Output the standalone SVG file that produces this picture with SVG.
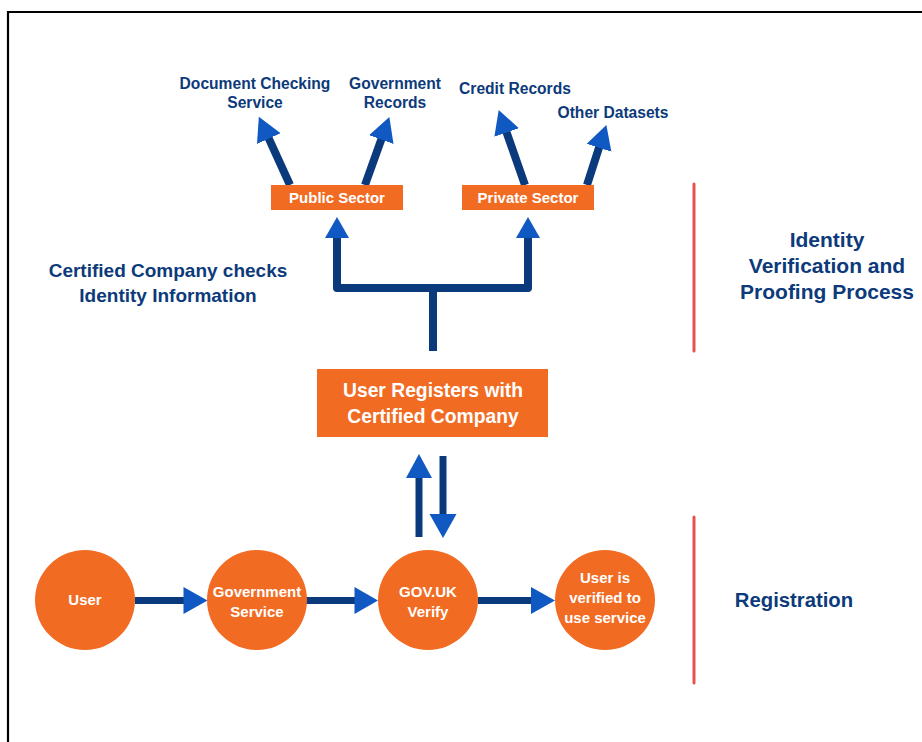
<svg xmlns="http://www.w3.org/2000/svg" width="922" height="742" viewBox="0 0 922 742">
  <style>
    .frame { stroke: #000; stroke-width: 2.2; fill: none; }
    .box { fill: #F26B23; }
    .lbl { font-family: "Liberation Sans", Arial, sans-serif; font-weight: bold; fill: #0C3A7A; text-anchor: middle; }
    .in { font-family: "Liberation Sans", Arial, sans-serif; font-weight: bold; fill: #FFFFFF; text-anchor: middle; }
    .shaft { stroke: #0B3A7C; fill: none; stroke-linecap: butt; }
    .head { fill: #1159C2; }
    .divider { stroke: #E5544C; stroke-width: 3; stroke-linecap: round; }
  </style>
  <defs>
    <marker id="tip" markerUnits="userSpaceOnUse" markerWidth="30" markerHeight="30" refX="1" refY="13" orient="auto">
      <path d="M0,0 L24,13 L0,26 Z" fill="#1159C2"/>
    </marker>
  </defs>

  <rect width="922" height="742" fill="#FFFFFF"/>

  <!-- page frame -->
  <path class="frame" d="M8,742 V12 H922"/>

  <!-- section dividers -->
  <line class="divider" x1="694" y1="184" x2="694" y2="351"/>
  <line class="divider" x1="694" y1="517" x2="694" y2="683"/>

  <!-- section titles -->
  <g id="title-identity">
    <text class="lbl" x="827" y="247" font-size="21">Identity</text>
    <text class="lbl" x="827" y="273" font-size="21">Verification and</text>
    <text class="lbl" x="827" y="299" font-size="21">Proofing Process</text>
  </g>
  <g id="title-registration">
    <text class="lbl" x="794" y="607" font-size="20.3">Registration</text>
  </g>
  <g id="caption-checks">
    <text class="lbl" x="168" y="277" font-size="19">Certified Company checks</text>
    <text class="lbl" x="168" y="302" font-size="19">Identity Information</text>
  </g>

  <!-- connectors -->
  <g id="connectors">
    <!-- sector branches -->
    <line class="shaft" stroke-width="8" x1="290" y1="185" x2="268.4" y2="137.7" marker-end="url(#tip)"/>
    <line class="shaft" stroke-width="8" x1="365" y1="185" x2="381.6" y2="138.6" marker-end="url(#tip)"/>
    <line class="shaft" stroke-width="8" x1="525" y1="185" x2="506.3" y2="131.6" marker-end="url(#tip)"/>
    <line class="shaft" stroke-width="8" x1="587" y1="185" x2="599.3" y2="146.8" marker-end="url(#tip)"/>

    <!-- fork from registration up to both sectors -->
    <path class="shaft" stroke-width="8" stroke-linejoin="round" d="M337,236 V288 H528 V236"/>
    <path class="shaft" stroke-width="8" stroke-linecap="round" d="M433,288 V351"/>
    <polygon class="head" points="337,217 349,238 325,238"/>
    <polygon class="head" points="528,217 540,238 516,238"/>

    <!-- two-way link between registration and verify -->
    <line class="shaft" stroke-width="7" x1="419" y1="537" x2="419" y2="476"/>
    <polygon class="head" points="419,454 432,478 406,478"/>
    <line class="shaft" stroke-width="7" x1="443" y1="456" x2="443" y2="516"/>
    <polygon class="head" points="443,538 456.5,514 429.5,514"/>

    <!-- registration flow -->
    <line class="shaft" stroke-width="7" x1="135" y1="600.5" x2="185" y2="600.5"/>
    <polygon class="head" points="207.5,600.5 183.5,587 183.5,614"/>
    <line class="shaft" stroke-width="7" x1="306" y1="600.5" x2="356" y2="600.5"/>
    <polygon class="head" points="378,600.5 354.5,587 354.5,614"/>
    <line class="shaft" stroke-width="7" x1="478" y1="600.5" x2="532" y2="600.5"/>
    <polygon class="head" points="555,600.5 531,587 531,614"/>
  </g>

  <!-- data sources -->
  <g id="doc-check">
    <text class="lbl" x="255" y="89" font-size="15.6">Document Checking</text>
    <text class="lbl" x="255" y="108" font-size="15.6">Service</text>
  </g>
  <g id="gov-records">
    <text class="lbl" x="395" y="89" font-size="15.6">Government</text>
    <text class="lbl" x="395" y="108" font-size="15.6">Records</text>
  </g>
  <g id="credit-records">
    <text class="lbl" x="515" y="94" font-size="15.6">Credit Records</text>
  </g>
  <g id="other-datasets">
    <text class="lbl" x="613" y="118" font-size="15.6">Other Datasets</text>
  </g>

  <!-- sectors -->
  <g id="public-sector">
    <rect class="box" x="271" y="185" width="132" height="25"/>
    <text class="in" x="337" y="203" font-size="15">Public Sector</text>
  </g>
  <g id="private-sector">
    <rect class="box" x="462" y="185" width="132" height="25"/>
    <text class="in" x="528" y="203" font-size="15">Private Sector</text>
  </g>

  <!-- certified company -->
  <g id="certified-company">
    <rect class="box" x="317" y="369" width="231" height="68"/>
    <text class="in" x="433" y="397" font-size="19.3">User Registers with</text>
    <text class="in" x="433" y="423" font-size="19.3">Certified Company</text>
  </g>

  <!-- registration flow nodes -->
  <g id="user">
    <circle class="box" cx="85" cy="600" r="50"/>
    <text class="in" x="85" y="605" font-size="15">User</text>
  </g>
  <g id="gov-service">
    <circle class="box" cx="257" cy="600" r="50"/>
    <text class="in" x="257" y="597" font-size="15">Government</text>
    <text class="in" x="257" y="617" font-size="15">Service</text>
  </g>
  <g id="gov-uk-verify">
    <circle class="box" cx="428" cy="600" r="50"/>
    <text class="in" x="428" y="597" font-size="15">GOV.UK</text>
    <text class="in" x="428" y="617" font-size="15">Verify</text>
  </g>
  <g id="user-verified">
    <circle class="box" cx="605" cy="600" r="50"/>
    <text class="in" x="605" y="583" font-size="15">User is</text>
    <text class="in" x="605" y="603" font-size="15">verified to</text>
    <text class="in" x="605" y="623" font-size="15">use service</text>
  </g>
</svg>
